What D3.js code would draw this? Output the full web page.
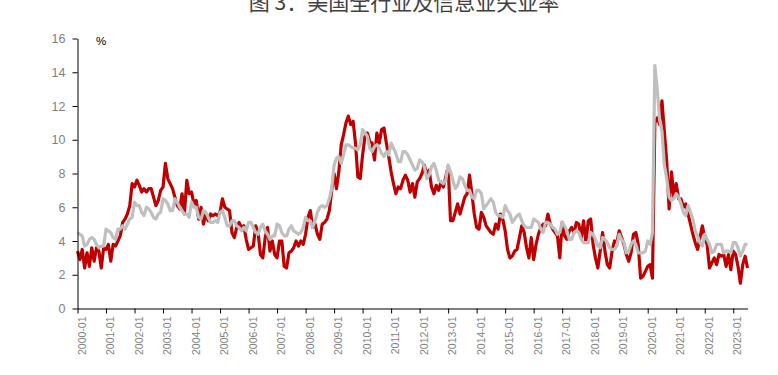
<!DOCTYPE html>
<html>
<head>
<meta charset="utf-8">
<script src="https://cdn.jsdelivr.net/npm/d3@7"></script>
<style>
  body { margin: 0; background: #fff; }
  svg { display: block; }
</style>
</head>
<body>
<svg id="chart" width="778" height="375"></svg>
<script>
// monthly data, 2000-01 .. 2023-07
const firstMonth = "2000-01";
const lastMonth = "2023-07";

// information industry unemployment rate (%), one row per year
const infoRate = [
  3.4, 2.9, 3.5, 2.4, 3.3, 2.5, 3.6, 2.8, 3.6, 3.4, 2.4, 3.6,
  3.5, 3.8, 2.8, 3.8, 3.7, 4.0, 4.3, 5.1, 5.3, 5.6, 6.1, 7.4,
  7.2, 7.6, 7.3, 6.9, 7.1, 6.9, 7.1, 7.1, 6.6, 6.1, 6.4, 7.0,
  7.2, 8.6, 7.7, 7.4, 7.1, 6.6, 6.1, 5.9, 6.8, 5.6, 7.6, 6.8,
  6.9, 6.2, 6.4, 5.3, 6.0, 5.0, 5.6, 5.2, 5.6, 5.5, 5.6, 5.5,
  5.7, 6.5, 6.0, 5.9, 5.8, 4.5, 4.2, 4.8, 5.1, 4.8, 4.9, 4.1,
  3.5, 3.6, 3.7, 4.9, 4.5, 3.2, 3.0, 4.2, 4.8, 3.4, 4.0, 3.2,
  3.0, 4.0, 4.0, 2.5, 2.4, 3.3, 3.4, 3.6, 4.0, 3.7, 4.0, 3.8,
  4.4, 5.4, 5.8, 4.8, 5.0, 4.4, 4.1, 5.0, 5.1, 5.3, 5.8, 7.0,
  8.0, 7.1, 8.1, 9.7, 10.3, 11.0, 11.4, 10.9, 11.1, 9.8, 7.8, 7.7,
  9.1, 10.2, 10.4, 9.9, 9.8, 8.8, 10.4, 9.8, 10.6, 10.7, 9.8, 9.0,
  8.1, 7.4, 6.8, 7.2, 7.1, 7.6, 7.9, 7.6, 6.9, 7.4, 6.6, 7.5,
  7.7, 8.0, 8.5, 7.9, 8.2, 7.2, 6.8, 7.3, 7.0, 7.5, 7.2, 7.8,
  8.4, 5.2, 5.2, 5.7, 6.2, 5.6, 6.1, 6.6, 6.8, 7.9, 6.8, 5.6,
  4.8, 4.7, 5.7, 5.4, 4.9, 4.7, 4.5, 4.4, 5.0, 4.7, 5.6, 5.3,
  4.6, 3.5, 3.0, 3.1, 3.4, 3.5, 4.2, 4.9, 4.5, 3.6, 3.0, 4.2,
  2.9, 3.8, 4.4, 4.8, 5.0, 4.9, 5.6, 5.0, 4.7, 4.5, 4.3, 3.0,
  5.1, 4.3, 4.1, 4.6, 4.8, 4.5, 5.1, 5.0, 4.2, 5.2, 3.9, 5.2,
  5.3, 3.8, 3.0, 2.4, 3.4, 4.5, 3.4, 2.6, 2.4, 3.4, 4.0, 3.9,
  4.6, 4.2, 3.8, 3.2, 2.8, 3.3, 4.4, 4.5, 3.8, 1.8, 1.9, 2.2,
  2.5, 2.6, 1.8, 11.0, 11.3, 10.9, 12.3, 10.5, 8.7, 5.9, 8.1, 6.6,
  7.4, 6.5, 6.5, 6.0, 6.2, 5.6, 5.0, 4.4, 3.9, 3.5, 4.2, 4.9,
  4.2, 3.8, 2.4, 2.7, 3.0, 2.6, 3.2, 3.1, 3.2, 2.5, 3.2, 2.3,
  3.4, 3.2, 2.5, 1.5, 2.6, 3.1, 2.4
];

// all industries unemployment rate (%), not seasonally adjusted
const allRate = [
  4.5, 4.4, 4.3, 3.7, 3.8, 4.1, 4.2, 4.1, 3.8, 3.6, 3.7, 3.7,
  4.7, 4.6, 4.5, 4.2, 4.1, 4.7, 4.7, 4.9, 4.7, 5.0, 5.3, 5.4,
  6.3, 6.1, 6.1, 5.7, 5.5, 6.0, 5.9, 5.7, 5.4, 5.3, 5.6, 5.7,
  6.5, 6.4, 6.2, 5.8, 5.8, 6.5, 6.3, 6.0, 5.8, 5.6, 5.6, 5.4,
  6.3, 6.0, 6.0, 5.4, 5.3, 5.8, 5.7, 5.4, 5.1, 5.1, 5.2, 5.1,
  5.7, 5.8, 5.4, 4.9, 4.9, 5.2, 5.2, 4.9, 4.8, 4.6, 4.8, 4.6,
  5.1, 5.1, 4.8, 4.5, 4.4, 4.8, 5.0, 4.6, 4.4, 4.1, 4.3, 4.3,
  5.0, 4.9, 4.5, 4.3, 4.3, 4.7, 4.9, 4.6, 4.5, 4.4, 4.5, 4.8,
  5.4, 5.2, 5.2, 4.8, 5.2, 5.7, 6.0, 6.1, 6.0, 6.1, 6.5, 7.1,
  8.5, 8.9, 9.0, 8.6, 9.1, 9.7, 9.7, 9.6, 9.5, 9.5, 9.4, 9.7,
  10.6, 10.4, 10.2, 9.5, 9.3, 9.6, 9.7, 9.5, 9.2, 9.0, 9.3, 9.1,
  9.8, 9.5, 9.2, 8.7, 8.7, 9.3, 9.3, 9.1, 8.8, 8.5, 8.2, 8.3,
  8.8, 8.7, 8.4, 7.7, 7.9, 8.4, 8.6, 8.2, 7.6, 7.5, 7.4, 7.6,
  8.5, 8.1, 7.6, 7.1, 7.3, 7.8, 7.7, 7.3, 7.0, 7.0, 6.6, 6.5,
  7.0, 7.0, 6.8, 5.9, 6.1, 6.3, 6.5, 6.3, 5.7, 5.5, 5.5, 5.4,
  6.1, 5.8, 5.6, 5.1, 5.3, 5.5, 5.6, 5.2, 4.9, 4.8, 4.8, 4.8,
  5.3, 5.2, 5.1, 4.7, 4.5, 5.1, 5.1, 5.0, 4.8, 4.7, 4.4, 4.5,
  5.1, 4.9, 4.6, 4.1, 4.1, 4.5, 4.6, 4.5, 4.1, 3.9, 3.9, 3.9,
  4.5, 4.4, 4.1, 3.7, 3.6, 4.2, 4.1, 3.9, 3.6, 3.5, 3.5, 3.7,
  4.4, 4.1, 3.9, 3.3, 3.4, 3.8, 4.0, 3.8, 3.3, 3.3, 3.3, 3.4,
  4.0, 3.8, 4.5, 14.4, 13.0, 11.2, 10.5, 8.5, 7.7, 6.6, 6.4, 6.5,
  6.8, 6.6, 6.2, 5.7, 5.5, 6.1, 5.7, 5.3, 4.6, 4.3, 3.9, 3.7,
  4.4, 4.1, 3.8, 3.3, 3.4, 3.8, 3.8, 3.8, 3.3, 3.4, 3.4, 3.3,
  3.9, 3.9, 3.6, 3.1, 3.4, 3.8, 3.8
];

const yTicks = [0, 2, 4, 6, 8, 10, 12, 14, 16];
const titleText = "图 3：美国全行业及信息业失业率";
const unitText = "%";

// category labels like "2000-01"
const fmt = d3.timeFormat("%Y-%m");
const parse = d3.timeParse("%Y-%m");
const months = d3.timeMonth.range(parse(firstMonth), d3.timeMonth.offset(parse(lastMonth), 1)).map(fmt);
const yearTicks = months.filter((m) => m.endsWith("-01"));

const svg = d3.select("#chart");

const x = d3.scalePoint().domain(months).range([77.5, 747.5]);
const y = d3.scaleLinear().domain([0, 16]).range([308.5, 38.5]);

// title (cut at the top edge, as in the original)
svg.append("text")
  .attr("x", 404)
  .attr("y", 10)
  .attr("text-anchor", "middle")
  .attr("font-family", "'Noto Sans CJK SC', sans-serif")
  .attr("font-size", 21)
  .attr("fill", "#404040")
  .text(titleText);

// lines: red first so the grey one sits on top
const line = (vals) => d3.line()
  .x((d, i) => x(months[i]))
  .y((d) => y(d))(vals);

svg.append("path")
  .attr("d", line(infoRate))
  .attr("fill", "none")
  .attr("stroke", "#C00000")
  .attr("stroke-width", 3.2)
  .attr("stroke-linejoin", "round");

svg.append("path")
  .attr("d", line(allRate))
  .attr("fill", "none")
  .attr("stroke", "#BFBFBF")
  .attr("stroke-width", 3.2)
  .attr("stroke-linejoin", "round");

// y axis
const yAxis = svg.append("g")
  .attr("transform", "translate(77.5,0)")
  .call(d3.axisLeft(y).tickValues(yTicks).tickSize(5).tickPadding(7).tickSizeOuter(0));
yAxis.select(".domain").attr("stroke", "#000");
yAxis.selectAll(".tick line").attr("stroke", "#000");
yAxis.selectAll(".tick text")
  .attr("font-family", "'Liberation Sans', Arial, sans-serif")
  .attr("font-size", 12.5)
  .attr("fill", "#7f7f7f");

// x axis
const xAxis = svg.append("g")
  .attr("transform", "translate(0,308.5)")
  .call(d3.axisBottom(x).tickValues(yearTicks).tickSize(5).tickSizeOuter(0));
xAxis.select(".domain").attr("stroke", "#000");
xAxis.selectAll(".tick line").attr("stroke", "#000");
xAxis.selectAll(".tick text")
  .attr("transform", "rotate(-90)")
  .attr("text-anchor", "end")
  .attr("x", -8)
  .attr("y", 7.5)
  .attr("dy", 0)
  .attr("font-family", "'Liberation Sans', Arial, sans-serif")
  .attr("font-size", 10.5)
  .attr("fill", "#7f7f7f");

// unit label
svg.append("text")
  .attr("x", 96)
  .attr("y", 45)
  .attr("font-family", "'Liberation Sans', Arial, sans-serif")
  .attr("font-size", 11.5)
  .attr("fill", "#000")
  .text(unitText);
</script>
</body>
</html>
